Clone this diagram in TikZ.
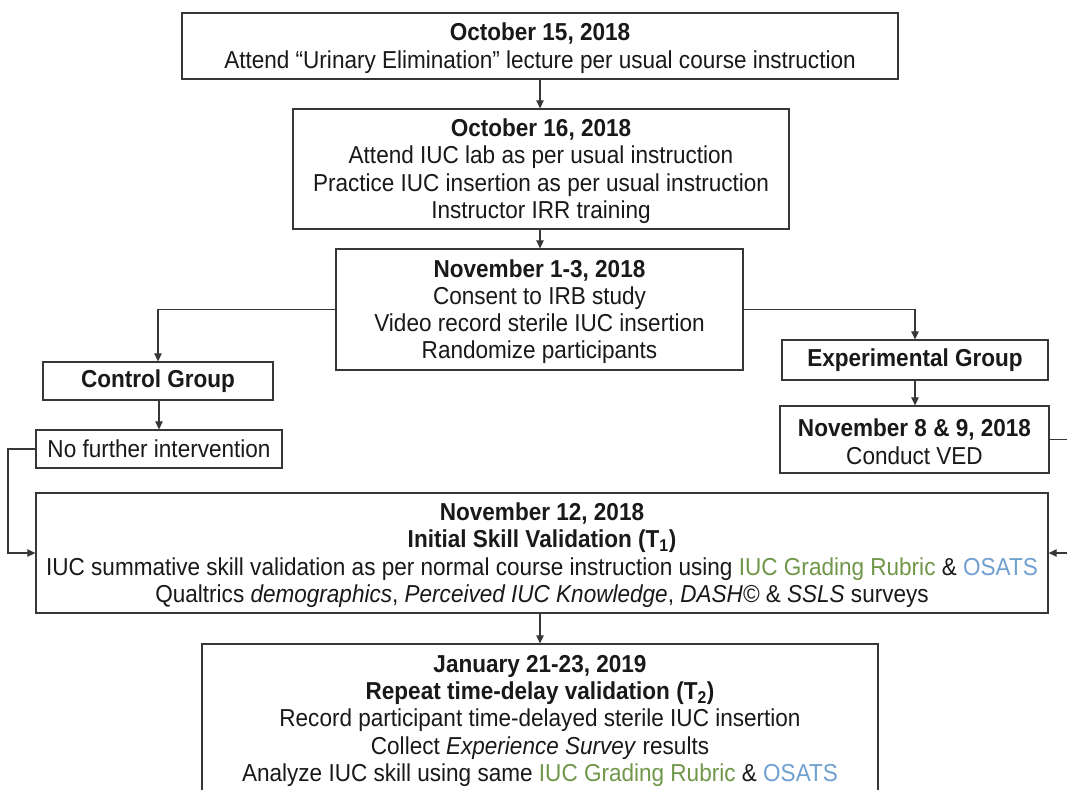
\documentclass[tikz,border=0pt]{standalone}
\usepackage{fontspec}
\setmainfont[FakeStretch=0.92]{Liberation Sans}
\usetikzlibrary{arrows.meta}
\definecolor{rubric}{RGB}{112,150,74}
\definecolor{osats}{RGB}{111,160,208}
\definecolor{ink}{RGB}{25,25,25}
\definecolor{edge}{RGB}{55,55,55}
\newcommand{\rub}{\textcolor{rubric}{IUC Grading Rubric}}
\newcommand{\osa}{\textcolor{osats}{OSATS}}
\newcommand{\topstrut}{\rule{0pt}{22pt}}
\begin{document}
\begin{tikzpicture}[x=1pt,y=-1pt,
  box/.style={draw=edge, line width=1.3pt, inner sep=0pt, align=center,
    font=\fontsize{24.5}{27.3}\selectfont, text=ink},
  conn/.style={draw=edge, line width=1.2pt},
  arr/.style={conn, -{Triangle[length=8pt,width=7.5pt]}}]
\useasboundingbox (0,0) rectangle (1067,789);
\fill[white] (0,0) rectangle (1067,789);

\node[box, minimum width=716pt, minimum height=66pt] (b1) at (540,46)
  {\topstrut\textbf{October 15, 2018}\\Attend “Urinary Elimination” lecture per usual course instruction};
\node[box, minimum width=496pt, minimum height=120pt] (b2) at (541,169)
  {\topstrut\textbf{October 16, 2018}\\Attend IUC lab as per usual instruction\\Practice IUC insertion as per usual instruction\\Instructor IRR training};
\node[box, minimum width=407pt, minimum height=121pt] (b3) at (539.5,309.5)
  {\topstrut\textbf{November 1-3, 2018}\\Consent to IRB study\\Video record sterile IUC insertion\\Randomize participants};
\node[box, minimum width=230pt, minimum height=38pt] (cg) at (158,381)
  {\textbf{Control Group}};
\node[box, minimum width=246pt, minimum height=38pt] (nf) at (159,449)
  {No further intervention};
\node[box, minimum width=266pt, minimum height=40pt] (eg) at (915,360)
  {\textbf{Experimental Group}};
\node[box, minimum width=269pt, minimum height=67pt] (n8) at (914.5,439.5)
  {\topstrut\textbf{November 8 \& 9, 2018}\\Conduct VED};
\node[box, minimum width=1012pt, minimum height=120pt] (b4) at (542,553)
  {\topstrut\textbf{November 12, 2018}\\\textbf{Initial Skill Validation (T\textsubscript{1})}\\IUC summative skill validation as per normal course instruction using \rub{} \& \osa\\Qualtrics \textit{demographics}, \textit{Perceived IUC Knowledge}, \textit{DASH©} \& \textit{SSLS} surveys};
\node[box, minimum width=676pt, minimum height=149pt] (b5) at (540,718.5)
  {\topstrut\textbf{January 21-23, 2019}\\\textbf{Repeat time-delay validation (T\textsubscript{2})}\\Record participant time-delayed sterile IUC insertion\\Collect \textit{Experience Survey} results\\Analyze IUC skill using same \rub{} \& \osa};

\coordinate (lft) at (8,0);
\coordinate (rgt) at (1080,0);

\draw[arr] (b1.south -| 540,0) -- (b2.north -| 540,0);
\draw[arr] (b2.south -| 540,0) -- (b3.north -| 540,0);
\draw[arr] (b3.west) -| (cg.north);
\draw[arr] (b3.east) -| (eg.north);
\draw[arr] (cg.south -| nf.north) -- (nf.north);
\draw[arr] (eg.south) -- (eg.south |- n8.north);
\draw[arr] (nf.west) -- (nf.west -| lft) |- (b4.west);
\draw[arr] (n8.east) -- (n8.east -| rgt) |- (b4.east);
\draw[arr] (b4.south -| 540,0) -- (b5.north -| 540,0);
\end{tikzpicture}
\end{document}
